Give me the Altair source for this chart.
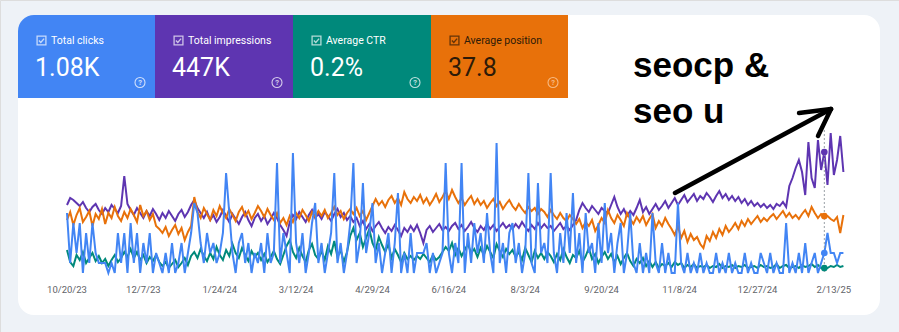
import altair as alt
import pandas as pd

# ---------------- data (one value every 2 days) ----------------
start_date = "2023-10-20"
n_points = 245

clicks = [
    6, 1, 5, 2, 5, 0, 4, 1, 5, 2,
    1, 1, 1, 0, 1, 0, 4, 1, 4, 0,
    5, 1, 4, 0, 3, 1, 4, 0, 2, 1,
    0, 2, 0, 3, 0, 1, 3, 0, 2, 4,
    7, 6, 3, 1, 4, 2, 3, 1, 2, 4,
    10, 6, 2, 0, 3, 4, 1, 3, 0, 2,
    1, 3, 0, 4, 1, 2, 11, 1, 4, 2,
    0, 12, 3, 1, 4, 0, 2, 5, 7, 1,
    3, 0, 2, 4, 10, 1, 3, 0, 2, 5,
    11, 1, 3, 9, 2, 4, 7, 1, 3, 0,
    2, 4, 0, 3, 8, 0, 2, 0, 4, 0,
    2, 2, 2, 3, 0, 2, 0, 1, 2, 11,
    2, 0, 3, 1, 11, 0, 4, 1, 5, 2,
    4, 1, 6, 2, 0, 13, 1, 3, 0, 4,
    5, 1, 3, 0, 2, 10, 1, 0, 9, 2,
    3, 1, 10, 2, 0, 4, 1, 6, 2, 8,
    1, 4, 0, 6, 2, 3, 0, 5, 1, 7,
    2, 4, 0, 3, 5, 0, 2, 6, 1, 0,
    3, 0, 2, 0, 6, 1, 0, 3, 0, 2,
    0, 0, 7, 1, 0, 2, 0, 1, 0, 2,
    0, 1, 0, 0, 2, 0, 1, 0, 2, 0,
    1, 0, 0, 2, 0, 1, 0, 0, 2, 1,
    0, 2, 0, 1, 0, 0, 5, 0, 1, 0,
    2, 0, 3, 0, 1, 2, 0, 1, 2, 4,
    2, 2, 1, 2, 2,
]

impressions = [
    680, 750, 730, 700, 670, 710, 650, 610, 660, 690,
    630, 590, 650, 610, 680, 640, 600, 670, 970, 690,
    630, 580, 650, 600, 550, 620, 570, 640, 590, 530,
    600, 550, 620, 570, 520, 590, 630, 560, 610, 680,
    730, 650, 600, 550, 610, 530, 580, 510, 560, 630,
    570, 510, 590, 540, 490, 560, 610, 530, 470, 550,
    590, 520, 570, 490, 540, 600, 550, 480, 430, 370,
    510, 580, 540, 610, 560, 510, 580, 630, 550, 590,
    540, 610, 570, 520, 590, 640, 560, 600, 530, 570,
    510, 550, 470, 520, 440, 490, 420, 470, 510, 450,
    400, 460, 420, 480, 430, 370, 450, 410, 470, 420,
    480, 400, 300, 430, 470, 410, 450, 490, 430, 460,
    420, 470, 500, 440, 480, 420, 460, 510, 450, 410,
    470, 430, 490, 440, 480, 420, 460, 500, 450, 480,
    440, 490, 450, 510, 460, 420, 480, 440, 500, 450,
    490, 450, 470, 420, 460, 500, 440, 470, 430, 480,
    530, 630, 700, 650, 610, 670, 630, 590, 650, 620,
    600, 680, 760, 660, 590, 640, 570, 620, 580, 650,
    730, 610, 660, 590, 640, 690, 630, 670, 720, 650,
    700, 750, 680, 730, 780, 710, 750, 790, 720, 770,
    740, 800, 760, 710, 770, 820, 750, 790, 730, 770,
    720, 760, 700, 740, 680, 720, 670, 700, 660, 690,
    650, 680, 640, 690, 670, 710, 660, 870, 950, 1050,
    1130, 1010, 780, 1310, 950, 850, 1330, 1030, 1210, 880,
    1400, 980, 1130, 1370, 1010,
]

ctr = [
    0.23, 0.11, 0.07, 0.18, 0.13, 0.21, 0.10, 0.15, 0.20, 0.12,
    0.17, 0.10, 0.14, 0.07, 0.13, 0.18, 0.11, 0.15, 0.21, 0.16,
    0.24, 0.15, 0.21, 0.13, 0.18, 0.10, 0.16, 0.12, 0.18, 0.11,
    0.07, 0.11, 0.05, 0.09, 0.13, 0.06, 0.10, 0.15, 0.08, 0.17,
    0.21, 0.15, 0.24, 0.17, 0.12, 0.20, 0.14, 0.26, 0.18, 0.13,
    0.23, 0.17, 0.29, 0.20, 0.15, 0.25, 0.18, 0.12, 0.22, 0.16,
    0.20, 0.13, 0.19, 0.11, 0.16, 0.22, 0.14, 0.09, 0.18, 0.27,
    0.33, 0.21, 0.15, 0.25, 0.17, 0.11, 0.23, 0.29, 0.18, 0.14,
    0.22, 0.13, 0.27, 0.19, 0.32, 0.16, 0.23, 0.11, 0.21, 0.37,
    0.45, 0.33, 0.40, 0.26, 0.35, 0.44, 0.30, 0.23, 0.36, 0.28,
    0.21, 0.29, 0.15, 0.24, 0.18, 0.11, 0.20, 0.14, 0.17, 0.13,
    0.17, 0.14, 0.19, 0.15, 0.11, 0.18, 0.13, 0.16, 0.21, 0.26,
    0.22, 0.30, 0.18, 0.25, 0.17, 0.23, 0.29, 0.20, 0.24, 0.16,
    0.25, 0.18, 0.27, 0.21, 0.15, 0.29, 0.22, 0.16, 0.24, 0.19,
    0.23, 0.16, 0.21, 0.13, 0.25, 0.18, 0.11, 0.22, 0.15, 0.20,
    0.14, 0.21, 0.17, 0.11, 0.19, 0.13, 0.24, 0.16, 0.10, 0.18,
    0.15, 0.22, 0.11, 0.17, 0.25, 0.14, 0.19, 0.10, 0.16, 0.21,
    0.14, 0.19, 0.11, 0.17, 0.09, 0.15, 0.20, 0.12, 0.07, 0.14,
    0.10, 0.15, 0.07, 0.12, 0.06, 0.11, 0.05, 0.09, 0.07, 0.10,
    0.06, 0.11, 0.08, 0.10, 0.05, 0.08, 0.06, 0.09, 0.05, 0.07,
    0.06, 0.08, 0.05, 0.07, 0.06, 0.09, 0.05, 0.07, 0.06, 0.08,
    0.05, 0.07, 0.06, 0.08, 0.05, 0.06, 0.07, 0.05, 0.08, 0.06,
    0.07, 0.05, 0.06, 0.09, 0.05, 0.07, 0.08, 0.05, 0.06, 0.07,
    0.05, 0.08, 0.06, 0.07, 0.09, 0.06, 0.08, 0.05, 0.05, 0.05,
    0.07, 0.06, 0.08, 0.06, 0.07,
]

position = [
    38, 36, 39.25, 36.75, 35, 38.5, 37.25, 35.75, 39.5, 36.5,
    37.75, 35.25, 39, 36.25, 37.5, 34.75, 37, 38.25, 36, 37.5,
    35.25, 36.75, 38.5, 34.25, 37, 35.75, 38, 36.5, 39.5, 40.25,
    41.25, 39.75, 42, 40.5, 39.25, 41.5, 40, 43, 41, 39.5,
    32.25, 36, 37.5, 35, 36.5, 38, 35.5, 37, 34.5, 36.25,
    37.5, 35.25, 36.75, 38.25, 36, 34.75, 37, 35.75, 37.75, 36.25,
    34.5, 35.75, 37.25, 35.25, 36.75, 38, 36.25, 38.75, 37.5, 39.25,
    37, 38.5, 36.25, 37.5, 35.5, 36.75, 38.25, 36, 37.25, 35.75,
    37, 35.5, 37.5, 36.25, 34.75, 36.75, 35.75, 37.75, 36.25, 35.25,
    36.5, 35, 37, 35.75, 38, 36.25, 34.5, 32.75, 34.25, 33.25,
    34.75, 33, 32, 33.75, 32.5, 34.25, 31, 32.75, 33.75, 32.25,
    33.25, 31.75, 33.75, 32.5, 34.25, 33, 31.5, 33.5, 32.25, 30.75,
    32.75, 30.5, 32.25, 33.75, 32.5, 34.25, 33, 32, 34, 32.75,
    34.25, 33.25, 35, 33.75, 32.75, 34.5, 33.5, 35.25, 34, 33,
    34.5, 35.5, 34, 35.25, 36.25, 34.75, 35.75, 35, 36.5, 35.25,
    36, 37.25, 35.5, 36.75, 37.75, 36.25, 37.5, 38.25, 36.75, 37.75,
    39, 37.75, 40, 38.5, 39.5, 38, 40.75, 39.25, 37.5, 38.75,
    35.5, 37.5, 38.75, 36.75, 38, 39.5, 36.25, 37.75, 39, 37.25,
    38.5, 37, 39.25, 37.75, 36.5, 40, 38.25, 39.5, 37.5, 39,
    40.25, 41.75, 39.5, 42.5, 40.75, 43.5, 41.5, 43, 42.25, 44,
    45, 42, 43.25, 41, 42.5, 40.25, 41.75, 39.5, 41, 40,
    38.75, 40.25, 38.25, 39.5, 37.75, 39, 38, 37, 38.5, 37.5,
    38.25, 37.25, 36.5, 37.75, 36.75, 35.75, 37.25, 36.25, 37.5, 36.75,
    37.75, 36.5, 35.5, 37, 34.75, 36.25, 37.5, 36.5, 37, 37,
    37.75, 38.25, 37.25, 41.25, 36.75,
]

hover_date = "2025-02-07"

tick_dates = ["2023-10-20", "2023-12-07", "2024-01-24", "2024-03-12", "2024-04-29",
              "2024-06-16", "2024-08-03", "2024-09-20", "2024-11-08", "2024-12-27",
              "2025-02-13"]
tick_labels = ["10/20/23", "12/7/23", "1/24/24", "3/12/24", "4/29/24", "6/16/24",
               "8/3/24", "9/20/24", "11/8/24", "12/27/24", "2/13/25"]

tile_labels = ["Total clicks", "Total impressions", "Average CTR", "Average position"]
tile_values = ["1.08K", "447K", "0.2%", "37.8"]
annotation_lines = ["seocp &", "seo u"]

# ---------------- styles ----------------
C_CLICKS = "#4285f4"
C_IMPR = "#5e35b1"
C_CTR = "#00897b"
C_POS = "#e8710a"
tile_colors = [C_CLICKS, C_IMPR, C_CTR, C_POS]
tile_text = ["#ffffff", "#ffffff", "#ffffff", "#2d1a08"]
tile_icon = ["#ffffff", "#ffffff", "#ffffff", "#fbd3ad"]
tile_left = [18, 155, 293, 431]
tile_right = [155, 293, 431, 568]
FONT = "Roboto"
LW = 2.0

df = pd.DataFrame({
    "date": pd.date_range(start_date, periods=n_points, freq="2D"),
    "clicks": clicks,
    "impressions": impressions,
    "ctr": ctr,
    "position": position,
})
hover_df = df[df["date"] == pd.Timestamp(hover_date)]
ticks_df = pd.DataFrame({"date": pd.to_datetime(tick_dates), "label": tick_labels})
one = pd.DataFrame({"k": [0]})

xscale = alt.Scale(domain=[alt.DateTime(year=2023, month=10, date=20),
                           alt.DateTime(year=2025, month=2, date=20)],
                   range=[67, 845])
X = alt.X("date:T", scale=xscale, axis=None)


def yscale(domain, rng):
    return alt.Scale(domain=domain, range=rng, zero=False, nice=False)


S_CLICKS = yscale([0, 14.5], [273, 128])
S_IMPR = yscale([0, 1450], [273, 128])
S_CTR = yscale([0, 1.45], [273, 128])
S_POS = yscale([15, 51.25], [128, 273])


def box(x1, x2, y1, y2, color, **kw):
    return alt.Chart(one).mark_rect(color=color, **kw).encode(
        x=alt.value(x1), x2=alt.value(x2), y=alt.value(y1), y2=alt.value(y2))


def txt(s, x, y, size, color, **kw):
    return alt.Chart(one).mark_text(text=s, fontSize=size, color=color, **kw).encode(
        x=alt.value(x), y=alt.value(y))


def seg(x1, y1, x2, y2):
    return alt.Chart(one).mark_rule(color="#000000", strokeWidth=4.5, strokeCap="round").encode(
        x=alt.value(x1), x2=alt.value(x2), y=alt.value(y1), y2=alt.value(y2))


layers = [box(18, 880, 15, 315, "#ffffff", cornerRadius=16)]

for k in range(4):
    L = tile_left[k]
    kw = {"cornerRadiusTopLeft": 16} if k == 0 else {}
    layers.append(box(L, tile_right[k], 15, 98, tile_colors[k], **kw))
    # checkbox
    layers.append(alt.Chart(one).mark_point(shape="square", size=78, filled=False,
                                            stroke=tile_text[k], strokeWidth=1.3).encode(
        x=alt.value(L + 23.5), y=alt.value(40.5)))
    layers.append(alt.Chart(one).mark_point(shape="M-0.55,0 L-0.15,0.4 L0.55,-0.4", size=90,
                                            filled=False, stroke=tile_text[k], strokeWidth=1.4).encode(
        x=alt.value(L + 23.5), y=alt.value(40.5)))
    layers.append(txt(tile_labels[k], L + 33, 40.5, 10.5, tile_text[k], align="left",
                      baseline="middle", font=FONT))
    layers.append(txt(tile_values[k], L + 17, 76, 25, tile_text[k], align="left",
                      baseline="alphabetic", font=FONT))
    # help icon
    layers.append(alt.Chart(one).mark_point(shape="circle", size=100, filled=False,
                                            stroke=tile_icon[k], strokeWidth=1.1, opacity=0.75).encode(
        x=alt.value(L + 122), y=alt.value(82.5)))
    layers.append(txt("?", L + 122, 83, 7.5, tile_icon[k], align="center", baseline="middle",
                      font=FONT, fontWeight="bold", opacity=0.75))

# series
base = alt.Chart(df)
layers.append(base.mark_line(color=C_IMPR, strokeWidth=LW).encode(
    x=X, y=alt.Y("impressions:Q", scale=S_IMPR, axis=None)))
layers.append(base.mark_line(color=C_POS, strokeWidth=LW).encode(
    x=X, y=alt.Y("position:Q", scale=S_POS, axis=None)))
layers.append(base.mark_line(color=C_CTR, strokeWidth=LW).encode(
    x=X, y=alt.Y("ctr:Q", scale=S_CTR, axis=None)))
layers.append(base.mark_line(color=C_CLICKS, strokeWidth=LW).encode(
    x=X, y=alt.Y("clicks:Q", scale=S_CLICKS, axis=None)))

# hover line and dots
layers.append(alt.Chart(hover_df).mark_rule(color="#9aa0a6", strokeWidth=1, strokeDash=[2, 2]).encode(
    x=X, y=alt.value(130), y2=alt.value(274)))
hb = alt.Chart(hover_df)
layers.append(hb.mark_point(filled=True, size=45, color=C_IMPR, opacity=1).encode(
    x=X, y=alt.Y("impressions:Q", scale=S_IMPR, axis=None)))
layers.append(hb.mark_point(filled=True, size=45, color=C_POS, opacity=1).encode(
    x=X, y=alt.Y("position:Q", scale=S_POS, axis=None)))
layers.append(hb.mark_point(filled=True, size=45, color=C_CTR, opacity=1).encode(
    x=X, y=alt.Y("ctr:Q", scale=S_CTR, axis=None)))
layers.append(hb.mark_point(filled=True, size=45, color=C_CLICKS, opacity=1).encode(
    x=X, y=alt.Y("clicks:Q", scale=S_CLICKS, axis=None)))

# date labels
layers.append(alt.Chart(ticks_df).mark_text(fontSize=9.5, color="#5f6368", baseline="middle",
                                            align="center", font=FONT).encode(
    x=X, y=alt.value(290), text="label:N"))

# annotation
layers.append(txt(annotation_lines[0], 633, 77, 35, "#000000", align="left",
                  baseline="alphabetic", font="Liberation Sans", fontWeight="bold"))
layers.append(txt(annotation_lines[1], 633, 123, 35, "#000000", align="left",
                  baseline="alphabetic", font="Liberation Sans", fontWeight="bold"))
layers.append(seg(675, 193, 831, 109))
layers.append(seg(831, 109, 799, 113))
layers.append(seg(831, 109, 818, 136))

chart = alt.layer(*layers).resolve_scale(y="independent").properties(
    width=899, height=332, padding=0,
    autosize=alt.AutoSizeParams(type="none"),
).configure_view(stroke=None).configure(background="#eef2f7")

chart.save("out.html", embed_options={"renderer": "svg", "actions": False})
